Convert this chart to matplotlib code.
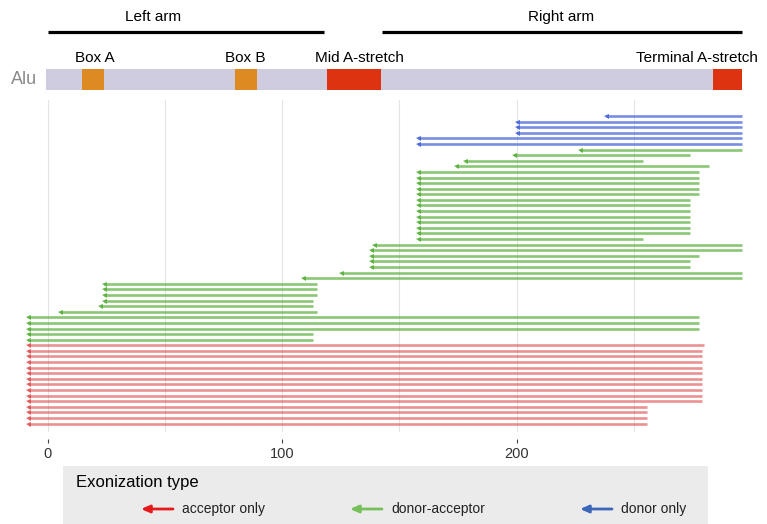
import matplotlib
matplotlib.use("Agg")
import matplotlib.pyplot as plt
import numpy as np

# exonization events, top row first (Alu coordinates, arrow points to the start)
event_type = ["donor only"] * 6 + ["donor-acceptor"] * 35 + ["acceptor only"] * 15
starts = [238, 200, 200, 200, 158, 158,
          227, 199, 178, 174,
          158, 158, 158, 158, 158,
          158, 158, 158, 158, 158, 158, 158,
          158, 139, 138, 138, 138, 138, 125, 109,
          24, 24, 24, 24, 22, 5,
          -8.5, -8.5, -8.5, -8.5, -8.5] + [-8.5] * 15
ends = [296, 296, 296, 296, 296, 296,
        296, 274, 254, 282,
        278, 278, 278, 278, 278,
        274, 274, 274, 274, 274, 274, 274,
        254, 296, 296, 278, 274, 274, 296, 296,
        115, 115, 115, 113, 113, 115,
        278, 278, 278, 113, 113] + [280] + [279] * 10 + [255.5] * 4

# Alu structure
alu_range = (-1, 296)
domains = ["Box A", "Box B", "Mid A-stretch", "Terminal A-stretch"]
domain_start = [14.5, 80, 119, 284]
domain_end = [24, 89, 142, 296]
domain_label_x = [20, 84, 133, 277]
arms = ["Left arm", "Right arm"]
arm_start = [0, 142.5]
arm_end = [118, 296]
arm_label_x = [45, 219]

legend_types = ["acceptor only", "donor-acceptor", "donor only"]
line_colors = {"acceptor only": "#E0484A", "donor-acceptor": "#58B03A", "donor only": "#4A68DA"}
line_alpha = {"acceptor only": 0.6, "donor-acceptor": 0.7, "donor only": 0.75}
legend_colors = {"acceptor only": "#E41A1C", "donor-acceptor": "#76C05A", "donor only": "#3C66B8"}

plt.rcParams["font.family"] = ["Liberation Sans", "DejaVu Sans"]

W, H = 767, 524
fig = plt.figure(figsize=(W / 100, H / 100), dpi=100)

x0_px, x1_px = 20, 748
px_per_unit = 2.343
xlim = ((x0_px - 48) / px_per_unit, (x1_px - 48) / px_per_unit)

# main panel
ax = fig.add_axes([x0_px / W, (H - 432) / H, (x1_px - x0_px) / W, 332 / H])
rows = np.arange(len(starts))
for t in legend_types:
    idx = [i for i, e in enumerate(event_type) if e == t]
    s = np.array(starts)[idx]
    e = np.array(ends)[idx]
    r = rows[idx]
    ax.hlines(r, s, e, color=line_colors[t], lw=1.9, alpha=line_alpha[t], zorder=2)
    ax.plot(s, r, ls="none", marker="<", ms=3.6, mew=0, color=line_colors[t],
            alpha=min(1, line_alpha[t] + 0.2), zorder=3)

ax.set_xlim(*xlim)
ax.set_ylim(56.5, -2.86)
ax.set_yticks([])
ax.set_xticks([0, 100, 200])
ax.set_xticks([50, 150, 250], minor=True)
ax.grid(axis="x", which="both", color="#E3E3E3", lw=0.8, zorder=0)
for sp in ax.spines.values():
    sp.set_visible(False)
ax.spines["bottom"].set_position(("outward", 5))
ax.tick_params(axis="x", which="major", length=3, width=0.8, color="#444444", pad=3,
               labelsize=10.5, labelcolor="#333333")
ax.tick_params(axis="x", which="minor", length=0)

# Alu annotation panel (y in pixels)
top = fig.add_axes([x0_px / W, (H - 100) / H, (x1_px - x0_px) / W, 100 / H])
top.set_xlim(*xlim)
top.set_ylim(100, 0)
top.axis("off")
for name, a, b, lx in zip(arms, arm_start, arm_end, arm_label_x):
    top.plot([a, b], [31.5, 31.5], color="black", lw=2.3, solid_capstyle="butt")
    top.text(lx, 17, name, ha="center", va="center", fontsize=11)
top.barh(79.5, alu_range[1] - alu_range[0], left=alu_range[0], height=21, color="#CFCCE0")
for name, a, b, lx in zip(domains, domain_start, domain_end, domain_label_x):
    c = "#DD8A22" if name.startswith("Box") else "#DD3311"
    top.barh(79.5, b - a, left=a, height=21, color=c)
    top.text(lx, 58, name, ha="center", va="center", fontsize=11)
top.text(-10.2, 79.5, "Alu", ha="center", va="center", fontsize=13, color="#8A8A8A")

# legend box
lg = fig.add_axes([63 / W, 0, 645 / W, 58 / H])
lg.set_xlim(0, 645)
lg.set_ylim(58, 0)
lg.set_xticks([])
lg.set_yticks([])
lg.set_facecolor("#EBEBEB")
for sp in lg.spines.values():
    sp.set_visible(False)
lg.text(13, 17, "Exonization type", ha="left", va="center", fontsize=12)
for t, ax0 in zip(legend_types, [78, 287, 517]):
    lg.annotate("", xy=(ax0, 43), xytext=(ax0 + 32, 43),
                arrowprops=dict(arrowstyle="-|>,head_length=0.5,head_width=0.22",
                                lw=2, color=legend_colors[t], shrinkA=0, shrinkB=0))
    lg.text(ax0 + 41, 43, t, ha="left", va="center", fontsize=10, color="#222222")

fig.savefig("out.png", dpi=100)
